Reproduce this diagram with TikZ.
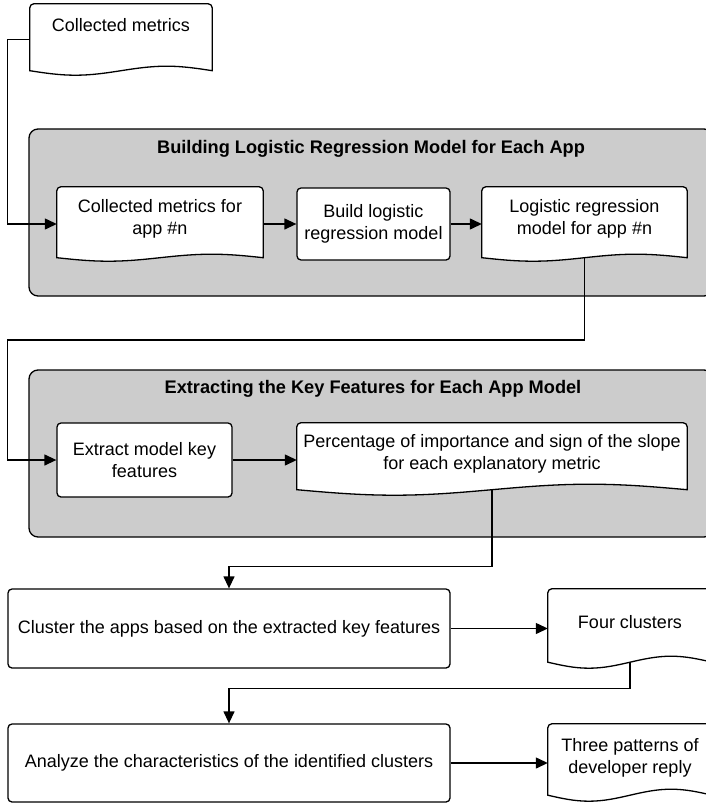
\documentclass[tikz,border=0pt]{standalone}
\usepackage{fontspec}
\setmainfont{Liberation Sans}
\usetikzlibrary{arrows.meta,calc}

\pgfdeclarelayer{groups}
\pgfdeclarelayer{docs}
\pgfsetlayers{groups,docs,main}

\tikzset{
  stage/.style={draw, line width=1.3pt, rounded corners=9pt, fill=gray!40},
  stagetitle/.style={font=\fontsize{18.2}{22}\selectfont\bfseries},
  proc/.style={draw, line width=1.3pt, rounded corners=4pt, fill=white, align=center, inner sep=2pt},
  doc/.style={align=center, inner sep=2pt, text depth=14pt},
  docline/.style={draw, line width=1.3pt, fill=white},
  link/.style={line width=1.3pt, -{Triangle[length=12pt,width=11pt]}}
}

% wavy document outline behind node #1, wave height #2
\newcommand{\docshape}[2]{%
  \begin{pgfonlayer}{docs}
  \path[docline] let \p1=(#1.north west), \p2=(#1.south east), \n1={(\x2-\x1)/4} in
    (\x1,\y2+#2pt) -- (\x1,\y1-4pt) arc[start angle=180, end angle=90, radius=4pt]
    -- (\x2-4pt,\y1) arc[start angle=90, end angle=0, radius=4pt]
    -- (\x2,\y2+#2pt) sin (\x2-\n1,\y2+2*#2pt) cos (\x2-2*\n1,\y2+#2pt)
    sin (\x1+\n1,\y2) cos (\x1,\y2+#2pt) -- cycle;
  \end{pgfonlayer}}

\begin{document}
\begin{tikzpicture}[x=1pt, y=-1pt, font=\fontsize{18}{22}\selectfont]
\useasboundingbox (0,0) rectangle (706,805);

% the two stages
\begin{pgfonlayer}{groups}
  \draw[stage] (29,129) rectangle (713,296);
  \draw[stage] (29,370) rectangle (713,537);
\end{pgfonlayer}
\node[stagetitle] (t1) at (371,149) {Building Logistic Regression Model for Each App};
\node[stagetitle] (t2) at (373,389) {Extracting the Key Features for Each App Model};

\node[doc, minimum width=182pt, minimum height=71pt, text depth=30pt] (cm) at (121,39.5) {Collected metrics};

\node[doc, minimum width=206pt, minimum height=74pt] (a1) at (160,224) {Collected metrics for\\app \#n};
\node[proc, minimum width=153pt, minimum height=72pt] (b1) at (373.5,224) {Build logistic\\regression model};
\node[doc, minimum width=205pt, minimum height=74pt] (c1) at (584.5,224) {Logistic regression\\model for app \#n};

\node[proc, minimum width=175pt, minimum height=74pt] (e1) at (144.5,460) {Extract model key\\features};
\node[doc, minimum width=390pt, minimum height=72pt] (d2) at (492,459) {Percentage of importance and sign of the slope\\for each explanatory metric};

\node[proc, minimum width=442pt, minimum height=79pt] (f1) at (229,628.5) {Cluster the apps based on the extracted key features};
\node[doc, minimum width=164pt, minimum height=79pt] (g1) at (630,628.5) {Four clusters};
\node[proc, minimum width=442pt, minimum height=78pt] (h1) at (229,763) {Analyze the characteristics of the identified clusters};
\node[doc, minimum width=164pt, minimum height=77pt] (k1) at (630,762.5) {Three patterns of\\developer reply};

\docshape{cm}{4.5}
\docshape{a1}{3.5}
\docshape{c1}{3.5}
\docshape{d2}{5.5}
\docshape{g1}{6}
\docshape{k1}{6}

% connectors
\draw[link] (cm.west) -- ++(-22,0) |- (a1.west);
\draw[link] (a1) -- (b1);
\draw[link] (b1) -- (c1);
\draw[link] ([yshift=3.5pt]c1.south) |- ([xshift=-49pt,yshift=120pt]e1.west) |- (e1.west);
\draw[link] (e1) -- (e1 -| d2.west);
\draw[link] ([yshift=5.5pt]d2.south) |- ([yshift=22pt]f1.north) -- (f1.north);
\draw[link] (f1) -- (g1);
\draw[link] ([yshift=6pt]g1.south) |- ([yshift=35pt]h1.north) -- (h1.north);
\draw[link] (h1) -- (h1 -| k1.west);
\end{tikzpicture}
\end{document}
